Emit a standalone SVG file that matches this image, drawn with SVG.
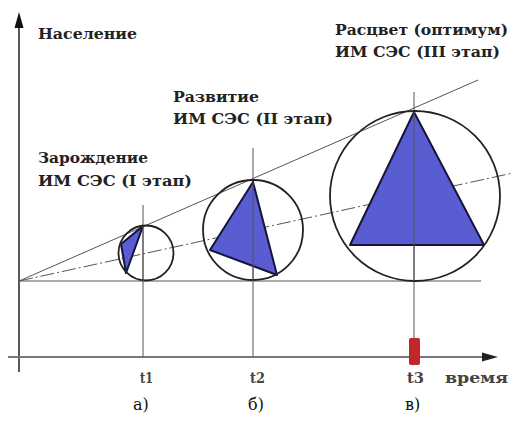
<svg xmlns="http://www.w3.org/2000/svg" width="513" height="424" viewBox="0 0 513 424">
<style>
.lbl{font-family:'DejaVu Serif',serif;font-weight:700;font-size:15px;fill:#222}
.tk{fill:#444}
.cap{font-family:'DejaVu Serif',serif;font-size:16px;fill:#111}
.ax{stroke:#222;stroke-width:1.5;fill:none}
.thin{stroke:#555;stroke-width:1;fill:none}
.circ{stroke:#222;stroke-width:1.8;fill:none}
.tri{fill:#5a5cd2;stroke:#15153a;stroke-width:2;stroke-linejoin:round}
</style>
<rect width="513" height="424" fill="#fff"/>
<g id="axes">
<line class="ax" x1="19" y1="26" x2="19" y2="372"/>
<polygon points="19,12 14.5,28 23.5,28" fill="#111"/>
<line x1="8" y1="357" x2="484" y2="357" stroke="#777" stroke-width="2"/>
<polygon points="498,357 482,352.5 482,361.5" fill="#222"/>
<text class="lbl" x="38" y="39" textLength="99" lengthAdjust="spacingAndGlyphs">Население</text>
<text class="lbl tk" x="445" y="383" textLength="63" lengthAdjust="spacingAndGlyphs">время</text>
</g>
<g id="connectors">
<line class="thin" x1="19" y1="281" x2="481" y2="281"/>
<line class="thin" x1="19" y1="281" x2="478" y2="80"/>
<line class="thin" x1="19" y1="281" x2="513" y2="173" stroke-dasharray="14 3 2 3"/>
<line class="thin" x1="143" y1="205" x2="143" y2="357"/>
<line class="thin" x1="253" y1="148" x2="253" y2="357"/>
<line class="thin" x1="414" y1="92" x2="414" y2="340"/>
</g>
<g id="stage1">
<polygon class="tri" points="143,226 121,244 126,273"/>
<circle class="circ" cx="146" cy="253" r="27.5"/>
<line class="thin" x1="143" y1="226" x2="143" y2="281"/>
<text class="lbl" x="38" y="163" textLength="110" lengthAdjust="spacingAndGlyphs">Зарождение</text>
<text class="lbl" x="38" y="186" textLength="154" lengthAdjust="spacingAndGlyphs">ИМ СЭС (I этап)</text>
<text class="lbl tk" x="140" y="383" textLength="13" lengthAdjust="spacingAndGlyphs">t1</text>
<text class="cap" x="133" y="410">а)</text>
</g>
<g id="stage2">
<polygon class="tri" points="253,182 210,250 277,275"/>
<circle class="circ" cx="253" cy="230" r="50"/>
<line class="thin" x1="253" y1="182" x2="253" y2="281"/>
<text class="lbl" x="173" y="102" textLength="86" lengthAdjust="spacingAndGlyphs">Развитие</text>
<text class="lbl" x="173" y="124" textLength="160" lengthAdjust="spacingAndGlyphs">ИМ СЭС (II этап)</text>
<text class="lbl tk" x="250" y="383" textLength="15" lengthAdjust="spacingAndGlyphs">t2</text>
<text class="cap" x="248" y="410">б)</text>
</g>
<g id="stage3">
<polygon class="tri" points="414,112 350,245 484,245"/>
<circle class="circ" cx="415" cy="196" r="85"/>
<line class="thin" x1="414" y1="112" x2="414" y2="281" stroke="#334"/>
<rect x="409" y="338" width="11" height="27" rx="2" fill="#c0262b"/>
<text class="lbl" x="335" y="35" textLength="173" lengthAdjust="spacingAndGlyphs">Расцвет (оптимум)</text>
<text class="lbl" x="335" y="57" textLength="165" lengthAdjust="spacingAndGlyphs">ИМ СЭС (III этап)</text>
<text class="lbl tk" x="407" y="383" textLength="17" lengthAdjust="spacingAndGlyphs">t3</text>
<text class="cap" x="405" y="410">в)</text>
</g>
</svg>
